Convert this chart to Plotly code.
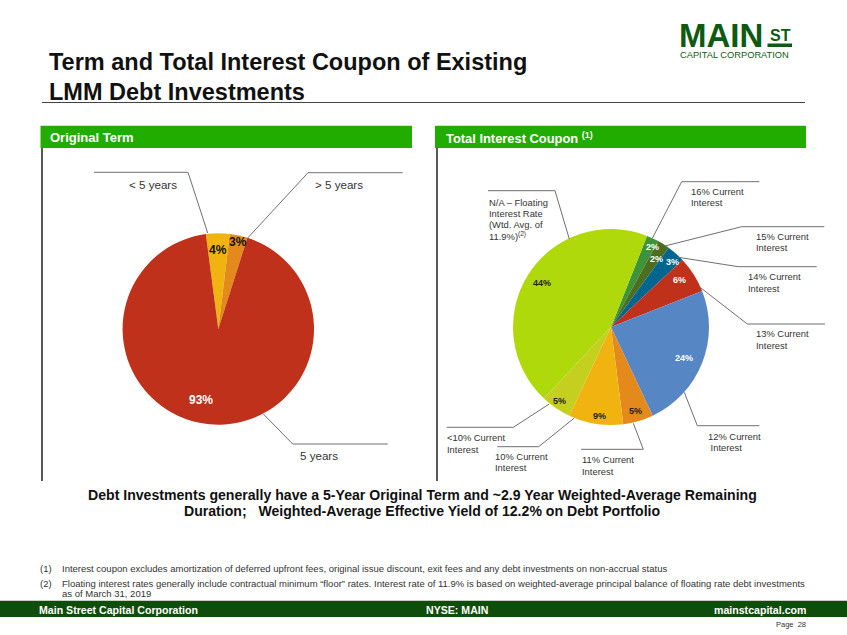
import plotly.graph_objects as go

W, H = 847, 635

# data
term_labels = ["< 5 years", "> 5 years", "5 years"]
term_values = [4, 3, 93]
term_colors = ["#f0b30f", "#e4891b", "#bf311a"]

coupon_labels = ["16% Current<br>Interest", "15% Current<br>Interest", "14% Current<br>Interest",
                 "13% Current<br>Interest", "12% Current<br> Interest", "11% Current<br>Interest",
                 "10% Current<br>Interest", "<10% Current<br>Interest",
                 "N/A – Floating<br>Interest Rate<br>(Wtd. Avg. of<br>11.9%)<sup>(2)</sup>"]
coupon_values = [2, 2, 3, 6, 24, 5, 9, 5, 44]
coupon_colors = ["#3f9338", "#4d6e1e", "#00668f", "#bf311a", "#5786c5",
                 "#e4891b", "#f0b30f", "#c5cf20", "#b0d90b"]

FONT = "Liberation Sans"


def px(x):
    return x / W


def py(y):
    return 1 - y / H


def pie_domain(cx, cy, r):
    return dict(x=[px(cx - r), px(cx + r)], y=[py(cy + r), py(cy - r)])


annotations = []


def add_text(x, y, text, size=9, color="#333333", bold=False, anchor="left", family=FONT):
    if bold:
        text = f"<b>{text}</b>"
    annotations.append(dict(
        x=px(x), y=py(y), xref="paper", yref="paper", text=text, showarrow=False,
        xanchor=anchor, yanchor="middle", align="left",
        font=dict(size=size, color=color, family=family), borderpad=0, borderwidth=0
    ))


def add_lines(x, y, text, size=9.4, spacing=11.3):
    # one annotation per line, plotly's own line height is a bit too loose here
    lines = text.split("<br>")
    top = y - spacing * (len(lines) - 1) / 2
    for i, line in enumerate(lines):
        add_text(x, top + i * spacing, line.replace(" Interest", "\u00a0Interest"), size=size)


shapes = []


def add_rect(x0, y0, x1, y1, color):
    shapes.append(dict(type="rect", xref="paper", yref="paper", x0=px(x0), x1=px(x1),
                       y0=py(y1), y1=py(y0), fillcolor=color, line_width=0))


def add_line(points, color="#6f6f6f", width=1):
    path = "M " + " L ".join(f"{px(a):.5f},{py(b):.5f}" for a, b in points)
    shapes.append(dict(type="path", xref="paper", yref="paper", path=path,
                       line=dict(color=color, width=width)))


fig = go.Figure()

# pies
fig.add_trace(go.Pie(
    labels=term_labels, values=term_values, sort=False, direction="clockwise", rotation=-7.5,
    domain=pie_domain(218.3, 329, 95.7), textinfo="none", showlegend=False,
    marker=dict(colors=term_colors, line=dict(width=0))
))
fig.add_trace(go.Pie(
    labels=coupon_labels, values=coupon_values, sort=False, direction="clockwise", rotation=21.6,
    domain=pie_domain(611, 327, 98), textinfo="none", showlegend=False,
    marker=dict(colors=coupon_colors, line=dict(width=0))
))

# title block
add_text(49, 62, "Term and Total Interest Coupon of Existing", size=23.5, color="#111111", bold=True)
add_text(49, 92, "LMM Debt Investments", size=23.5, color="#111111", bold=True)
add_line([(42, 102.5), (805, 102.5)], color="#444444", width=1.2)

# logo
add_text(679, 36, "MAIN", size=33, color="#0f5a12", bold=True)
add_text(780, 35.5, "ST", size=16, color="#0f5a12", bold=True, anchor="center")
add_rect(767.5, 43.5, 792, 47, "#0f5a12")
add_text(680, 55, "CAPITAL CORPORATION", size=9.3, color="#0f5a12")

# panel headers
add_rect(40.5, 125.7, 412, 148, "#20ad00")
add_rect(435, 125.7, 806, 148, "#20ad00")
add_text(50, 137.5, "Original Term", size=13, color="white", bold=True)
add_text(446, 137.5, "Total Interest Coupon <sup>(1)</sup>", size=12.9, color="white", bold=True)
add_line([(42, 148), (42, 481)], color="#111111", width=1.4)
add_line([(437, 148), (437, 481)], color="#111111", width=1.4)

# left pie leaders and labels
add_line([(94, 172.3), (188, 172.3), (207.7, 233)])
add_line([(402.7, 172.7), (308, 172.7), (247.7, 238)])
add_line([(387.7, 444), (292.7, 444), (263.3, 414)])
for (x, y), label in zip([(153, 184), (339, 184), (319, 455.7)], term_labels):
    add_text(x, y, label, size=11.6, anchor="center")
for (x, y), v, c in zip([(218, 250), (238, 242), (200.7, 400)], term_values, ["#111111", "#111111", "white"]):
    add_text(x, y, f"{v}%", size=12, color=c, bold=True, anchor="center")

# right pie leaders and labels
add_line([(759.3, 181.7), (681.7, 181.7), (652.3, 238.3)])
add_line([(824.3, 226.7), (741.7, 226.7), (665, 246)])
add_line([(816.7, 266.7), (738.3, 266.7), (678.3, 257.3)])
add_line([(825, 324), (747.3, 324), (699.3, 286.7)])
add_line([(759.3, 425.7), (697.3, 425.7), (684.3, 392.3)])
add_line([(581, 449.3), (643.3, 449.3), (633.3, 423.3)])
add_line([(497.3, 446.7), (538.7, 446.7), (574, 418.3)])
add_line([(446.7, 427.3), (513.3, 427.3), (549.3, 404)])
add_line([(488, 190.7), (555, 190.7), (569.3, 239)])

label_pos = [(690.7, 197), (755.7, 242), (747.7, 282.5), (756, 339.5), (708, 442),
             (581.7, 465.5), (495, 462), (447, 443.5), (488.7, 219)]
for (x, y), label in zip(label_pos, coupon_labels):
    add_lines(x, y, label)

pct_pos = [(652.7, 246.7), (656.7, 259.3), (672.7, 261.7), (679, 280), (684.3, 357.7),
           (635.7, 410.7), (599.3, 416.3), (559.3, 401), (541.7, 283.3)]
pct_col = ["white", "white", "white", "white", "white", "#222222", "#222222", "#222222", "#222222"]
for (x, y), v, c in zip(pct_pos, coupon_values, pct_col):
    add_text(x, y, f"{v}%", size=9, color=c, bold=True, anchor="center")

# takeaway
add_text(422, 495, "Debt Investments generally have a 5-Year Original Term and ~2.9 Year Weighted-Average Remaining",
         size=14.1, color="#111111", bold=True, anchor="center")
add_text(422, 511, "Duration;   Weighted-Average Effective Yield of 12.2% on Debt Portfolio",
         size=14.1, color="#111111", bold=True, anchor="center")

# footnotes
add_text(40, 568.7, "(1)", size=9.5)
add_text(62, 568.7, "Interest coupon excludes amortization of deferred upfront fees, original issue discount, exit fees and any debt investments on non-accrual status", size=9.5)
add_text(40, 583, "(2)", size=9.5)
add_text(62, 583, "Floating interest rates generally include contractual minimum “floor” rates. Interest rate of 11.9% is based on weighted-average principal balance of floating rate debt investments", size=9.5)
add_text(62, 593.5, "as of March 31, 2019", size=9.5)

# footer
add_rect(0, 600.7, W, 617, "#0f4d0a")
add_text(39, 609.5, "Main Street Capital Corporation", size=10.6, color="white", bold=True)
add_text(457, 609.5, "NYSE: MAIN", size=10.6, color="white", bold=True, anchor="center")
add_text(806, 609.5, "mainstcapital.com", size=10.6, color="white", bold=True, anchor="right")
add_text(806, 624, "Page  28", size=7.5, anchor="right")

fig.update_layout(
    width=W, height=H, margin=dict(l=0, r=0, t=0, b=0),
    paper_bgcolor="white", plot_bgcolor="white",
    shapes=shapes, annotations=annotations
)

# page body has a default 8px margin, drop it so the figure fills the window
fig.write_html("out.html", config=dict(displayModeBar=False),
               post_script="document.body.style.margin='0';document.body.style.overflow='hidden';")
